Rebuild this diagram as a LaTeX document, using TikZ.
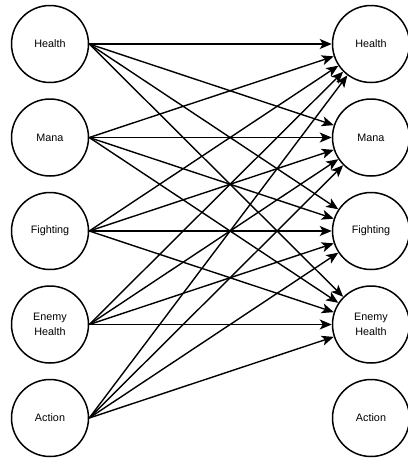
\documentclass[tikz,border=0pt]{standalone}
\usepackage{fontspec}
\setmainfont{Liberation Sans}
\usetikzlibrary{arrows.meta}
\begin{document}
\begin{tikzpicture}[x=1pt,y=1pt,font=\fontsize{10.8}{15}\selectfont, line join=round, >={Stealth[length=12pt,width=10pt,inset=3pt]}]
	%% sizes of the layout
	\def \xl{50}
	\def \xr{371}
	\def \ytop{44}
	\def \dy{93.5}
	\tikzset{neuron/.style={draw,circle,line width=1.5pt,minimum size=77pt,inner sep=0pt,align=center}}
	\useasboundingbox (0,0) rectangle (408,-459);
	%% input and output nodes
	\foreach \i/\lab in {1/Health,2/Mana,3/Fighting,4/{Enemy\\Health},5/Action}{
		\node[neuron] (l\i) at (\xl,{-(\ytop+(\i-1)*\dy)}) {\lab};
		\node[neuron] (r\i) at (\xr,{-(\ytop+(\i-1)*\dy)}) {\lab};
	}
	%% connections (none to the right Action)
	\foreach \i in {1,...,5}
		\foreach \j in {1,...,4}
			\draw[->,line width=1.4pt] (l\i.east)--(r\j);
\end{tikzpicture}
\end{document}
